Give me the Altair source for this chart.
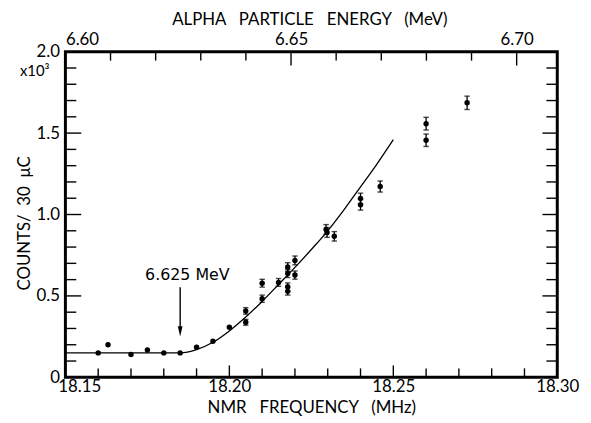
import altair as alt
import pandas as pd

# ---- data ----
freq = [18.160, 18.163, 18.170, 18.175, 18.180, 18.185, 18.190, 18.195, 18.200,
        18.205, 18.205, 18.210, 18.210, 18.215, 18.2178, 18.2178, 18.2178, 18.2178,
        18.220, 18.220, 18.2295, 18.2298, 18.232, 18.240, 18.240, 18.246,
        18.260, 18.260, 18.2725]
counts = [0.150, 0.200, 0.140, 0.168, 0.150, 0.150, 0.185, 0.222, 0.308,
          0.408, 0.338, 0.483, 0.578, 0.583, 0.678, 0.638, 0.556, 0.528,
          0.718, 0.628, 0.908, 0.890, 0.866, 1.098, 1.060, 1.172,
          1.558, 1.456, 1.686]
errs = [0.0, 0.0, 0.0, 0.0, 0.0, 0.0, 0.0, 0.0, 0.0,
        0.020, 0.018, 0.022, 0.024, 0.024, 0.026, 0.025, 0.024, 0.023,
        0.027, 0.025, 0.030, 0.030, 0.029, 0.033, 0.033, 0.034,
        0.039, 0.038, 0.041]

curve_freq = [18.150, 18.185, 18.190, 18.195, 18.200, 18.205, 18.210, 18.215,
              18.220, 18.225, 18.230, 18.235, 18.240, 18.245, 18.250]
curve_counts = [0.150, 0.150, 0.170, 0.215, 0.285, 0.370, 0.466, 0.570,
                0.675, 0.785, 0.900, 1.030, 1.170, 1.310, 1.460]

arrow_freq = [18.185]
arrow_top = [0.553]
arrow_tip = [0.300]
arrow_head = [0.282]
label_freq = [18.1872]
label_count = [0.626]
label_text = ["6.625 MeV"]

x_major = [18.15, 18.20, 18.25, 18.30]
x_minor = [round(18.15 + 0.01 * i, 2) for i in range(16) if i % 5 != 0]
y_major = [0.0, 0.5, 1.0, 1.5, 2.0]
y_minor = [round(0.1 * i, 1) for i in range(21) if i % 5 != 0]
e_major = [6.60, 6.65, 6.70]
e_minor = [round(6.60 + 0.01 * i, 2) for i in range(11) if i % 5 != 0]

W, H = 497, 329
FONT = "Lato"
SP = "\u00a0\u00a0\u00a0"

xscale = alt.Scale(domain=[18.15, 18.30], nice=False, zero=False)
yscale = alt.Scale(domain=[0, 2.0], nice=False, zero=False)
escale = alt.Scale(domain=[6.60, 6.709], nice=False, zero=False)

xaxis = alt.Axis(values=x_major, format=".2f", orient="bottom",
                 title=f"NMR{SP}FREQUENCY{SP}(MHz)", labelPadding=1, labelFlush=False,
                 labelOffset={"condition": {"test": "datum.value < 18.16", "value": 14}, "value": 0},
                 titleX=W / 2, titleY=31, titleBaseline="middle", titleAlign="center")
yaxis = alt.Axis(values=y_major, orient="left",
                 labelExpr="datum.value == 0 ? '0' : format(datum.value, '.1f')",
                 title="COUNTS/\u00a0\u00a030\u00a0\u00a0μC", labelPadding=6,
                 titleX=-41, titleY=173, titleAngle=270,
                 titleBaseline="middle", titleAlign="center")
eaxis = alt.Axis(values=e_major, format=".2f", orient="top",
                 title=f"ALPHA{SP}PARTICLE{SP}ENERGY{SP}(MeV)", labelPadding=3,
                 labelFlush=True, titleX=W / 2 - 2, titleY=-32,
                 titleBaseline="middle", titleAlign="center")

X = lambda f: alt.X(f, type="quantitative", scale=xscale, axis=xaxis)
Y = lambda f: alt.Y(f, type="quantitative", scale=yscale, axis=yaxis)

df_xmaj = pd.DataFrame({"v": x_major})
df_xmin = pd.DataFrame({"v": x_minor})
df_ymaj = pd.DataFrame({"v": y_major})
df_ymin = pd.DataFrame({"v": y_minor})
df_emaj = pd.DataFrame({"v": e_major})
df_emin = pd.DataFrame({"v": e_minor})

pts = pd.DataFrame({"f": freq, "c": counts, "e": errs})
curve = pd.DataFrame({"f": curve_freq, "c": curve_counts})
arrow = pd.DataFrame({"f": arrow_freq, "top": arrow_top, "tip": arrow_tip, "head": arrow_head})
lab = pd.DataFrame({"f": label_freq, "c": label_count, "t": label_text})
x10 = pd.DataFrame({"f": [18.15], "c": [1.88], "t": ["x10³"]})

rule = dict(color="black", strokeWidth=1.4)

bx_maj = alt.Chart(df_xmaj).mark_rule(**rule).encode(x=X("v"), y=alt.value(H), y2=alt.value(H - 12))
bx_min = alt.Chart(df_xmin).mark_rule(**rule).encode(x=X("v"), y=alt.value(H), y2=alt.value(H - 9))
ly_maj = alt.Chart(df_ymaj).mark_rule(**rule).encode(y=Y("v"), x=alt.value(0), x2=alt.value(16))
ly_min = alt.Chart(df_ymin).mark_rule(**rule).encode(y=Y("v"), x=alt.value(0), x2=alt.value(11))
ry_maj = alt.Chart(df_ymaj).mark_rule(**rule).encode(y=Y("v"), x=alt.value(W), x2=alt.value(W - 15))
ry_min = alt.Chart(df_ymin).mark_rule(**rule).encode(y=Y("v"), x=alt.value(W), x2=alt.value(W - 11))

line = alt.Chart(curve).mark_line(color="black", strokeWidth=1.3, interpolate="monotone").encode(
    x=X("f"), y=Y("c"))

base_err = alt.Chart(pts).transform_filter("datum.e > 0").transform_calculate(
    lo="datum.c - datum.e", hi="datum.c + datum.e")
ebar = base_err.mark_rule(color="black", strokeWidth=1.3).encode(x=X("f"), y=Y("lo:Q"), y2="hi:Q")
cap_lo = base_err.mark_point(shape="stroke", size=30, color="black", strokeWidth=1.4, filled=False).encode(
    x=X("f"), y=Y("lo:Q"))
cap_hi = base_err.mark_point(shape="stroke", size=30, color="black", strokeWidth=1.4, filled=False).encode(
    x=X("f"), y=Y("hi:Q"))
dots = alt.Chart(pts).mark_circle(size=30, color="black", opacity=1).encode(x=X("f"), y=Y("c"))

arr_line = alt.Chart(arrow).mark_rule(color="black", strokeWidth=1.4).encode(x=X("f"), y=Y("top"), y2="tip")
arr_head = alt.Chart(arrow).mark_point(shape="M-0.45,-1L0.45,-1L0,1Z", size=110, color="black",
                                       filled=True, opacity=1).encode(x=X("f"), y=Y("head"))
txt = alt.Chart(lab).mark_text(font="DejaVu Sans", fontSize=16, color="black").encode(
    x=X("f"), y=Y("c"), text="t")
txt10 = alt.Chart(x10).mark_text(font=FONT, fontSize=15, color="black", dx=-31).encode(
    x=X("f"), y=Y("c"), text="t")

freq_group = alt.layer(bx_maj, bx_min, ly_maj, ly_min, ry_maj, ry_min, line, ebar,
                       cap_lo, cap_hi, dots, arr_line, arr_head, txt, txt10)

EX = lambda f: alt.X(f, type="quantitative", scale=escale, axis=eaxis)
te_maj = alt.Chart(df_emaj).mark_rule(**rule).encode(x=EX("v"), y=alt.value(0), y2=alt.value(14))
te_min = alt.Chart(df_emin).mark_rule(**rule).encode(x=EX("v"), y=alt.value(0), y2=alt.value(9))
energy_group = alt.layer(te_maj, te_min)

chart = alt.layer(freq_group, energy_group).resolve_scale(x="independent").properties(
    width=W, height=H,
    padding={"left": 58, "top": 42, "right": 26, "bottom": 44},
    autosize=alt.AutoSizeParams(type="none"),
).configure(background="white").configure_view(
    stroke="black", strokeWidth=3
).configure_axis(
    labelFont=FONT, labelFontSize=17, labelColor="black",
    titleFont=FONT, titleFontSize=17, titleFontWeight="normal", titleColor="black",
    domain=False, ticks=False, grid=False,
)

chart.save("out.html", embed_options={"renderer": "svg", "actions": False})
